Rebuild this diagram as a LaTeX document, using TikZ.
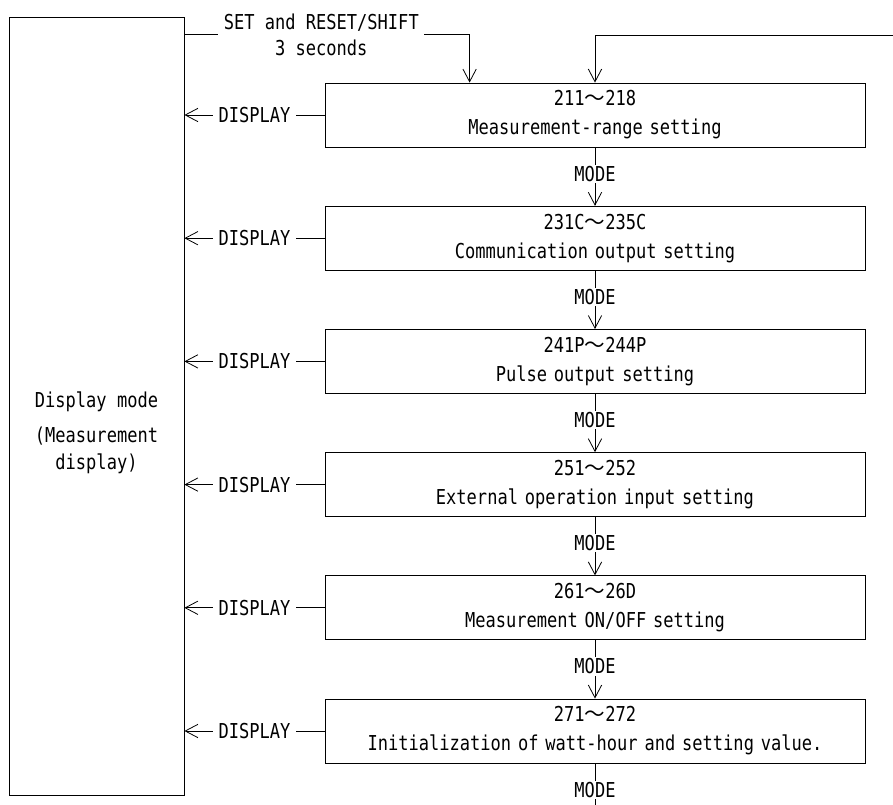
\documentclass[tikz,border=0pt]{standalone}
\usepackage{fontspec}
\newfontfamily\gothic[FakeStretch=0.83]{DejaVu Sans Mono}
\newfontfamily\cjk{Noto Sans CJK JP}
\newcommand{\wv}{{\cjk 〜}}
\usetikzlibrary{arrows.meta,positioning}

\begin{document}
\begin{tikzpicture}[
  x=0.75pt, y=-0.75pt,
  font=\gothic\fontsize{15.4pt}{21.75pt}\selectfont,
  >={Straight Barb[length=9.5pt,width=10pt]},
  line width=0.6pt,
  node distance=43.8pt,
  box/.style={draw, align=center, text width=405pt, minimum height=48pt, inner xsep=0pt, inner ysep=2pt},
  lbl/.style={fill=white, inner xsep=4pt, inner ysep=1pt, align=center},
  arr/.style={->}
]
\useasboundingbox (0,0) rectangle (893,805);
% display mode
\node[draw, minimum width=131.25pt, minimum height=583.5pt, inner sep=0pt] (disp) at (96.5,406) {};
\node[align=center, font=\gothic\fontsize{15.4pt}{20.25pt}\selectfont] (disptxt) at (96.5,433) {Display mode\\[6pt](Measurement\\display)};
% setting modes
\node[box] (b1) at (595,115) {211\wv218\\Measurement-range setting};
\node[box, below=of b1] (b2) {231C\wv235C\\Communication output setting};
\node[box, below=of b2] (b3) {241P\wv244P\\Pulse output setting};
\node[box, below=of b3] (b4) {251\wv252\\External operation input setting};
\node[box, below=of b4] (b5) {261\wv26D\\Measurement ON/OFF setting};
\node[box, below=of b5] (b6) {271\wv272\\Initialization of watt-hour and setting value.};
\coordinate (drop) at ([xshift=108.75pt]b1.north west);
\coordinate (ret) at (893,35);
\coordinate (cont) at ([yshift=-34.5pt]b6.south);
\draw[arr] ([yshift=-13.5pt]disp.north east) -| node[lbl, pos=0.24, font=\gothic\fontsize{15.4pt}{19.5pt}\selectfont] {SET and RESET/SHIFT\\3 seconds} (drop);
\draw[arr] (ret) -| (b1.north);
\foreach \b in {b1,b2,b3,b4,b5,b6} \draw[arr] (\b.west) -- node[lbl] {DISPLAY} (\b.west -| disp.east);
\foreach \a/\b in {b1/b2,b2/b3,b3/b4,b4/b5,b5/b6} \draw[arr] (\a) -- node[lbl, pos=0.45] {MODE} (\b);
\draw (b6.south) -- node[lbl, pos=0.57] {MODE} (cont);
\end{tikzpicture}
\end{document}
